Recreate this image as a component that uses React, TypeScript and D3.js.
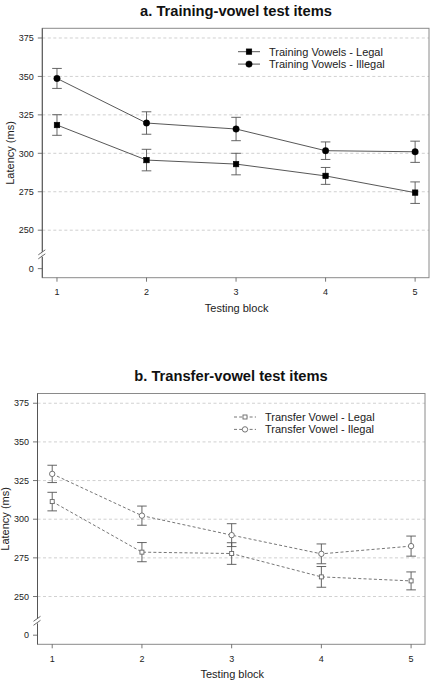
import React from "react";
import * as d3 from "d3";

const blocks = [1, 2, 3, 4, 5];
const yTicks = [250, 275, 300, 325, 350, 375];
const zeroTickLabel = "0";

const trainLegal = [318.4, 295.6, 293.0, 285.3, 274.4];
const trainLegalErr = [6.7, 7.0, 7.0, 5.5, 7.0];
const trainIllegal = [348.7, 319.7, 315.8, 301.7, 301.0];
const trainIllegalErr = [6.5, 7.3, 7.6, 5.7, 6.9];

const transLegal = [311.4, 278.7, 277.8, 262.7, 260.1];
const transLegalErr = [6.0, 6.2, 7.0, 6.7, 5.8];
const transIllegal = [329.3, 302.3, 289.7, 277.6, 282.6];
const transIllegalErr = [5.6, 6.2, 7.4, 6.4, 6.5];

const titleA = "a. Training-vowel test items";
const titleB = "b. Transfer-vowel test items";
const legendA = ["Training Vowels - Legal", "Training Vowels - Illegal"];
const legendB = ["Transfer Vowel - Legal", "Transfer Vowel - Ilegal"];
const xTitle = "Testing block";
const yTitle = "Latency (ms)";

const FONT = "'Liberation Sans', Arial, sans-serif";

type Series = { values: number[]; errs: number[]; shape: "square" | "circle" };

function Marker({ x, y, shape, open }: { x: number; y: number; shape: string; open: boolean }) {
  if (shape === "square") {
    const s = open ? 4.0 : 5.6;
    return (
      <rect x={x - s / 2} y={y - s / 2} width={s} height={s}
        fill={open ? "#fff" : "#000"} stroke={open ? "#666" : "#000"} strokeWidth={open ? 0.9 : 0.5} />
    );
  }
  const r = open ? 2.7 : 3.2;
  return <circle cx={x} cy={y} r={r} fill={open ? "#fff" : "#000"} stroke={open ? "#666" : "#000"} strokeWidth={open ? 0.9 : 0.5} />;
}

function Panel({ left, right, top, bottom, title, titleX, titleY, series, legend, legendX, legendY, open }: any) {
  const x = d3.scaleLinear().domain([0.836, 5.155]).range([left, right]);
  const y = d3.scaleLinear().domain([219.1, 381.3]).range([bottom, top]);
  const line = d3.line<number>().x((_, i) => x(blocks[i])).y((d) => y(d));
  const zeroPos = y(225);
  const breakPos = y(234.3);
  const lineColor = open ? "#666" : "#444";
  const dash = open ? "3,2.2" : undefined;
  return (
    <g>
      <text x={titleX} y={titleY} textAnchor="middle" fontFamily={FONT} fontWeight="bold" fontSize={14.7} fill="#111">{title}</text>
      {yTicks.map((t) => (
        <line key={t} x1={left} x2={right} y1={y(t)} y2={y(t)} stroke="#c4c4c4" strokeWidth={0.8} strokeDasharray="3,2.5" />
      ))}
      <rect x={left} y={top} width={right - left} height={bottom - top} fill="none" stroke="#8a8a8a" strokeWidth={1} />
      <line x1={left} x2={left} y1={top} y2={breakPos - 2.5} stroke="#555" strokeWidth={1} />
      <line x1={left} x2={left} y1={breakPos + 2.5} y2={bottom} stroke="#555" strokeWidth={1} />
      <rect x={left - 0.6} y={breakPos - 2.5} width={1.2} height={5} fill="#fff" />
      <line x1={left - 4} x2={left + 3} y1={breakPos - 2.5 + 3} y2={breakPos - 2.5 - 2} stroke="#444" strokeWidth={0.8} />
      <line x1={left - 4} x2={left + 3} y1={breakPos + 2.5 + 2} y2={breakPos + 2.5 - 3} stroke="#444" strokeWidth={0.8} />
      {yTicks.map((t) => (
        <g key={t}>
          <line x1={left - 4.5} x2={left} y1={y(t)} y2={y(t)} stroke="#555" strokeWidth={0.8} />
          <text x={left - 8.5} y={y(t) + 3.2} textAnchor="end" fontFamily={FONT} fontSize={9} fill="#222">{t}</text>
        </g>
      ))}
      <line x1={left - 4.5} x2={left} y1={zeroPos} y2={zeroPos} stroke="#555" strokeWidth={0.8} />
      <text x={left - 8.5} y={zeroPos + 3.2} textAnchor="end" fontFamily={FONT} fontSize={9} fill="#222">{zeroTickLabel}</text>
      {blocks.map((b) => (
        <g key={b}>
          <line x1={x(b)} x2={x(b)} y1={bottom} y2={bottom + 4} stroke="#555" strokeWidth={0.8} />
          <text x={x(b)} y={bottom + 17.3} textAnchor="middle" fontFamily={FONT} fontSize={9} fill="#222">{b}</text>
        </g>
      ))}
      <text x={(left + right) / 2 + 1} y={bottom + 34} textAnchor="middle" fontFamily={FONT} fontSize={11} fill="#222">{xTitle}</text>
      <text transform={`translate(${left - 28.5},${(top + bottom) / 2}) rotate(-90)`} textAnchor="middle" fontFamily={FONT} fontSize={11} fill="#222">{yTitle}</text>
      {series.map((s: Series, si: number) => (
        <g key={si}>
          <path d={line(s.values) || ""} fill="none" stroke={lineColor} strokeWidth={0.9} strokeDasharray={dash} />
          {s.values.map((v, i) => {
            const cx = x(blocks[i]);
            const y1 = y(v + s.errs[i]);
            const y2 = y(v - s.errs[i]);
            return (
              <g key={i}>
                <line x1={cx} x2={cx} y1={y1} y2={y2} stroke="#555" strokeWidth={0.9} />
                <line x1={cx - 4.8} x2={cx + 4.8} y1={y1} y2={y1} stroke="#555" strokeWidth={0.9} />
                <line x1={cx - 4.8} x2={cx + 4.8} y1={y2} y2={y2} stroke="#555" strokeWidth={0.9} />
                <Marker x={cx} y={y(v)} shape={s.shape} open={open} />
              </g>
            );
          })}
        </g>
      ))}
      {legend.map((lab: string, i: number) => {
        const ly = legendY + i * 12.4;
        return (
          <g key={lab}>
            <line x1={legendX} x2={legendX + 22} y1={ly} y2={ly} stroke={lineColor} strokeWidth={0.9} strokeDasharray={dash} />
            <Marker x={legendX + 11} y={ly} shape={series[i].shape} open={open} />
            <text x={legendX + 31} y={ly + 4} fontFamily={FONT} fontSize={11} fill="#222">{lab}</text>
          </g>
        );
      })}
    </g>
  );
}

export default function App() {
  const seriesA: Series[] = [
    { values: trainLegal, errs: trainLegalErr, shape: "square" },
    { values: trainIllegal, errs: trainIllegalErr, shape: "circle" },
  ];
  const seriesB: Series[] = [
    { values: transLegal, errs: transLegalErr, shape: "square" },
    { values: transIllegal, errs: transIllegalErr, shape: "circle" },
  ];
  return (
    <svg width={435} height={682} style={{ position: "absolute", left: 0, top: 0, background: "#fff" }}>
      <rect x={0} y={0} width={435} height={682} fill="#fff" />
      <Panel left={42.3} right={429} top={28.3} bottom={277.7} title={titleA} titleX={236} titleY={16.3}
        series={seriesA} legend={legendA} legendX={238} legendY={51.7} open={false} />
      <Panel left={37.5} right={425} top={393.5} bottom={644.3} title={titleB} titleX={231} titleY={381.3}
        series={seriesB} legend={legendB} legendX={234} legendY={417} open={true} />
    </svg>
  );
}
